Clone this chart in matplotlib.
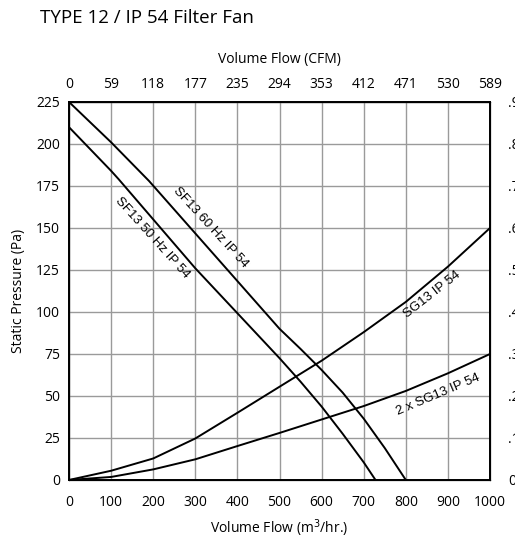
import numpy as np
import matplotlib.pyplot as plt

# fan curves
sf60_flow = [0, 100, 190, 500, 550, 600, 650, 700, 750, 800]
sf60_pa = [225, 201, 178, 90, 78, 65.5, 52, 36.5, 19, 0]

sf50_flow = [0, 100, 118, 300, 500, 550, 600, 650, 700, 728]
sf50_pa = [210, 184, 179, 126, 72.5, 58.5, 43.7, 27.5, 10.5, 0]

sg_flow = [0, 100, 200, 300, 400, 500, 600, 700, 800, 900, 1000]
sg_pa = [0, 5.5, 12.8, 24.7, 40, 55.5, 71, 88, 106, 127, 150]
sg2_pa = [0, 1.8, 6.3, 12.3, 20.2, 28, 36, 44, 53, 63.5, 75]

x_ticks = [0, 100, 200, 300, 400, 500, 600, 700, 800, 900, 1000]
cfm_labels = ['0', '59', '118', '177', '235', '294', '353', '412', '471', '530', '589']
y_ticks = [0, 25, 50, 75, 100, 125, 150, 175, 200, 225]
inwg_labels = ['0', '.1', '.2', '.3', '.4', '.5', '.6', '.7', '.8', '.9']

axis_font = 'Open Sans'
label_font = 'Liberation Sans'

fig = plt.figure(figsize=(5.15, 5.39), dpi=100)
ax = fig.add_axes([0.134, 0.1095, 0.8175, 0.7013])

ax.plot(sf60_flow, sf60_pa, color='k', lw=1.4)
ax.plot(sf50_flow, sf50_pa, color='k', lw=1.4)
ax.plot(sg_flow, sg_pa, color='k', lw=1.4)
ax.plot(sg_flow, sg2_pa, color='k', lw=1.4)

ax.set_xlim(0, 1000)
ax.set_ylim(0, 225)
ax.set_xticks(x_ticks)
ax.set_yticks(y_ticks)
ax.grid(True, color='#9a9a9a', lw=1.0)
ax.set_axisbelow(True)
ax.tick_params(length=0, labelsize=10)
ax.tick_params(axis='x', pad=11)
ax.tick_params(axis='y', pad=6.5)
for lbl in ax.get_xticklabels() + ax.get_yticklabels():
    lbl.set_family(axis_font)
for s in ax.spines.values():
    s.set_linewidth(1.4)

ax.set_xlabel('Volume Flow (m$^3$/hr.)', family=axis_font, fontsize=10, labelpad=5)
ax.set_ylabel('Static Pressure (Pa)', family=axis_font, fontsize=10, labelpad=7)

# top axis in CFM
top = ax.twiny()
top.set_xlim(0, 1000)
top.set_xticks(x_ticks)
top.set_xticklabels(cfm_labels, family=axis_font, fontsize=10)
top.tick_params(length=0, pad=7)
top.set_xlabel('Volume Flow (CFM)', family=axis_font, fontsize=10, labelpad=10)

# right axis in inches of water
right = ax.twinx()
right.set_ylim(0, 225)
right.set_yticks(y_ticks)
right.set_yticklabels(inwg_labels, family=axis_font, fontsize=10)
right.tick_params(length=0, pad=13)

# curve labels
ax.text(336, 150, 'SF13 60 Hz IP 54', rotation=-47.5, ha='center', va='center',
        family=label_font, fontsize=9.5)
ax.text(198, 144, 'SF13 50 Hz IP 54', rotation=-48, ha='center', va='center',
        family=label_font, fontsize=9.5)
ax.text(862, 110.5, 'SG13 IP 54', rotation=38, ha='center', va='center',
        family=label_font, fontsize=9.5)
ax.text(877, 50.5, '2 x SG13 IP 54', rotation=23, ha='center', va='center',
        family=label_font, fontsize=9.5)

fig.text(0.078, 0.966, 'TYPE 12 / IP 54 Filter Fan', family=axis_font, fontsize=13.5,
         ha='left', va='center')

fig.savefig('out.png', dpi=100)
